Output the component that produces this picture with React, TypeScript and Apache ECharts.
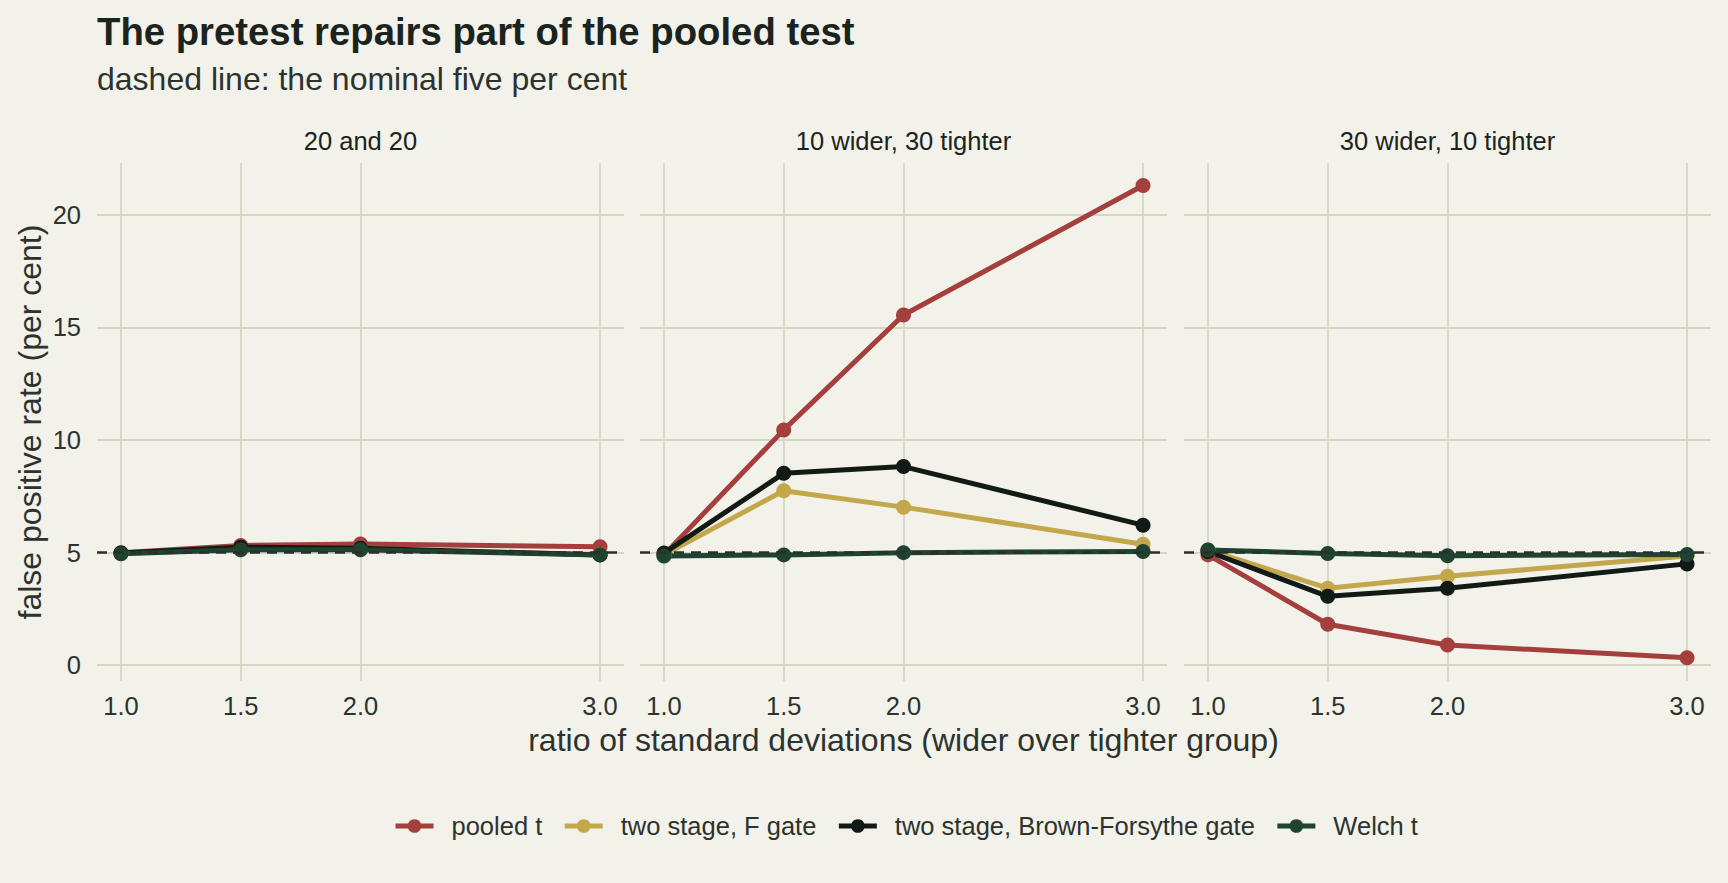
import { useEffect, useRef } from 'react';
import * as echarts from 'echarts';

const ratios = [1.0, 1.5, 2.0, 3.0];
const panelNames = ['20 and 20', '10 wider, 30 tighter', '30 wider, 10 tighter'];
const methods = ['pooled t', 'two stage, F gate', 'two stage, Brown-Forsythe gate', 'Welch t'];
const methodColors = ['#A43F3D', '#C3A84B', '#111A15', '#1E4331'];

// false positive rate (per cent), one row per panel, one value per ratio
const pooledT = [
  [5.0, 5.32, 5.38, 5.26],
  [4.9, 10.45, 15.55, 21.3],
  [4.9, 1.82, 0.9, 0.33],
];
const fGate = [
  [4.96, 5.16, 5.16, 4.92],
  [4.9, 7.75, 7.02, 5.37],
  [5.12, 3.42, 3.95, 4.85],
];
const bfGate = [
  [4.98, 5.24, 5.19, 4.9],
  [4.98, 8.52, 8.82, 6.22],
  [5.05, 3.06, 3.42, 4.5],
];
const welchT = [
  [4.95, 5.13, 5.13, 4.9],
  [4.85, 4.9, 5.0, 5.05],
  [5.12, 4.96, 4.86, 4.92],
];
const nominalRate = 5;
const yTicks = [0, 5, 10, 15, 20];

const FONT = '"Liberation Sans", Arial, Helvetica, sans-serif';
const BG = '#F2F1EA';
const GRID = '#D5D5C4';
const INK = '#1B231E';
const INK2 = '#2C332E';

export default function App() {
  const chartRef = useRef<HTMLDivElement>(null);

  useEffect(() => {
    document.body.style.margin = '0';
    if (!chartRef.current) return;
    const chart = echarts.init(chartRef.current, null, { renderer: 'svg' });

    const gridLefts = [97, 640, 1184];
    const panelWidth = 527;
    const allSeries = [pooledT, fGate, bfGate, welchT];

    const grids = gridLefts.map((left) => ({ left, top: 163, width: panelWidth, height: 518 }));

    const xAxes = gridLefts.map((_, p) => ({
      type: 'value',
      gridIndex: p,
      min: 0.9,
      max: 3.1,
      axisLine: { show: false },
      axisTick: { show: false, customValues: ratios },
      axisLabel: {
        customValues: ratios,
        formatter: (v: number) => v.toFixed(1),
        color: INK2,
        fontFamily: FONT,
        fontSize: 25.5,
        margin: 12,
      },
      splitLine: { show: true, lineStyle: { color: GRID, width: 1.8 } },
      name: p === 1 ? 'ratio of standard deviations (wider over tighter group)' : '',
      nameLocation: 'middle',
      nameGap: 42,
      nameTextStyle: { color: INK2, fontFamily: FONT, fontSize: 32 },
    }));

    const yAxes = gridLefts.map((_, p) => ({
      type: 'value',
      gridIndex: p,
      min: -0.7,
      max: 22.3,
      axisLine: { show: false },
      axisTick: { show: false, customValues: yTicks },
      axisLabel: {
        show: p === 0,
        customValues: yTicks,
        color: INK2,
        fontFamily: FONT,
        fontSize: 25.5,
        margin: 16,
      },
      splitLine: { show: true, lineStyle: { color: GRID, width: 1.8 } },
      name: p === 0 ? 'false positive rate (per cent)' : '',
      nameLocation: 'middle',
      nameRotate: 90,
      nameGap: 51,
      nameTextStyle: { color: INK2, fontFamily: FONT, fontSize: 32 },
    }));

    const series: any[] = [];
    gridLefts.forEach((_, p) => {
      methods.forEach((name, m) => {
        series.push({
          type: 'line',
          name,
          xAxisIndex: p,
          yAxisIndex: p,
          data: ratios.map((r, i) => [r, allSeries[m][p][i]]),
          symbol: 'circle',
          symbolSize: 15,
          lineStyle: { color: methodColors[m], width: 5 },
          itemStyle: { color: methodColors[m] },
          emphasis: { disabled: true },
          markLine:
            m === 0
              ? {
                  silent: true,
                  symbol: 'none',
                  label: { show: false },
                  lineStyle: { color: '#2B2E2B', width: 2.5, type: [10, 7] },
                  data: [{ yAxis: nominalRate }],
                }
              : undefined,
        });
      });
    });

    const stripCentres = gridLefts.map((l) => l + panelWidth / 2);

    const option = {
      animation: false,
      backgroundColor: BG,
      textStyle: { fontFamily: FONT },
      title: [
        {
          text: 'The pretest repairs part of the pooled test',
          left: 97,
          top: 12,
          padding: 0,
          textStyle: { color: INK, fontFamily: FONT, fontSize: 38.3, fontWeight: 'bold' },
        },
        {
          text: 'dashed line: the nominal five per cent',
          left: 97,
          top: 63,
          padding: 0,
          textStyle: { color: INK2, fontFamily: FONT, fontSize: 32, fontWeight: 'normal' },
        },
      ],
      graphic: panelNames.map((t, p) => ({
        type: 'text',
        x: stripCentres[p],
        y: 128,
        style: {
          text: t,
          fill: INK,
          font: `25.5px ${FONT}`,
          textAlign: 'center',
          textVerticalAlign: 'top',
        },
      })),
      legend: {
        data: methods,
        left: 393,
        top: 813,
        padding: 0,
        itemWidth: 38,
        itemHeight: 17,
        itemGap: 20,
        lineStyle: { width: 5 },
        textStyle: { color: INK2, fontFamily: FONT, fontSize: 25.5, padding: [0, 0, 0, 13] },
      },
      grid: grids,
      xAxis: xAxes,
      yAxis: yAxes,
      series,
    };

    chart.setOption(option as any);

    return () => {
      chart.dispose();
    };
  }, []);

  return <div ref={chartRef} style={{ width: 1728, height: 883 }} />;
}
